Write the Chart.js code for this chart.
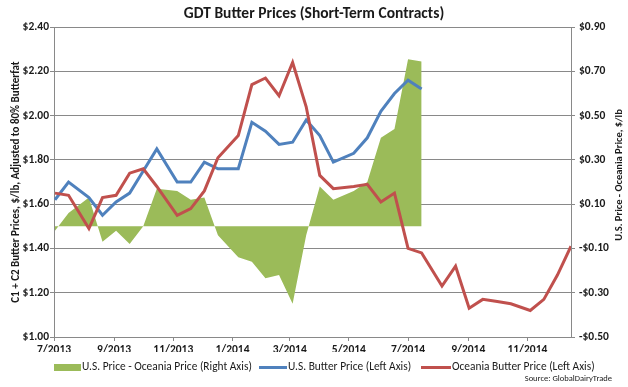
<!DOCTYPE html>
<html><head><meta charset="utf-8">
<script src="https://cdn.jsdelivr.net/npm/chart.js@4/dist/chart.umd.min.js"></script>
<style>html,body{margin:0;padding:0;background:#fff}#wrap{width:628px;height:387px}</style>
</head><body><div id="wrap"><canvas id="c" width="628" height="387"></canvas></div>
<script>
// ---- data ----
const eventDates = ['2013-07-02','2013-07-16','2013-08-06','2013-08-20','2013-09-03','2013-09-17','2013-10-01','2013-10-15','2013-11-05','2013-11-19','2013-12-03','2013-12-17','2014-01-07','2014-01-21','2014-02-04','2014-02-18','2014-03-04','2014-03-18','2014-04-01','2014-04-15','2014-05-06','2014-05-20','2014-06-03','2014-06-17','2014-07-01','2014-07-15','2014-08-05','2014-08-19','2014-09-02','2014-09-16','2014-10-01','2014-10-15','2014-11-04','2014-11-18','2014-12-02','2014-12-16'];
const usPrice = [1.62,1.70,1.63,1.55,1.61,1.65,1.75,1.85,1.70,1.70,1.79,1.76,1.76,1.97,1.93,1.87,1.88,1.98,1.91,1.79,1.83,1.90,2.02,2.10,2.16,2.12];
const oceaniaPrice = [1.65,1.64,1.49,1.63,1.64,1.74,1.76,1.68,1.55,1.58,1.66,1.81,1.91,2.14,2.17,2.09,2.24,2.04,1.73,1.67,1.68,1.69,1.61,1.65,1.40,1.38,1.23,1.32,1.13,1.17,1.16,1.15,1.12,1.17,1.28,1.41];
const priceSpread = [-0.02,0.06,0.13,-0.07,-0.02,-0.08,0.00,0.17,0.16,0.12,0.13,-0.04,-0.14,-0.16,-0.235,-0.22,-0.35,-0.04,0.18,0.12,0.16,0.20,0.40,0.44,0.755,0.745];
const xTickLabels = ['7/2013','9/2013','11/2013','1/2014','3/2014','5/2014','7/2014','9/2014','11/2014'];
const leftTicks = [1.00,1.20,1.40,1.60,1.80,2.00,2.20,2.40];
const rightTicks = [-0.50,-0.30,-0.10,0.10,0.30,0.50,0.70,0.90];
const seriesNames = ['U.S. Price - Oceania Price (Right Axis)','U.S. Butter Price (Left Axis)','Oceania Butter Price (Left Axis)'];
const chartTitle = 'GDT Butter Prices (Short-Term Contracts)';
const leftAxisTitle = 'C1 + C2 Butter Prices, $/lb, Adjusted to 80% Butterfat';
const rightAxisTitle = 'U.S. Price - Oceania Price, $/lb';
const sourceText = 'Source: GlobalDairyTrade';

// ---- helpers ----
const DAY = 86400000;
function labelDay(l){const [m,y]=l.split('/').map(Number);return Date.UTC(y,m-1,1)/DAY;}
function dateDay(s){const [y,m,d]=s.split('-').map(Number);return Date.UTC(y,m-1,d)/DAY;}
const xTickDays = xTickLabels.map(labelDay);
const xMin = xTickDays[0];
const xMax = dateDay(eventDates[eventDates.length-1]);
const pts = arr => arr.map((v,i)=>({x: dateDay(eventDates[i]), y: v}));

const FONT = 'Carlito, Lato, sans-serif';
const GRID = '#898989';
const TXT = '#1a1a1a';
const COLORS = ['#9BBB59','#4F81BD','#C0504D'];

const decor = {
  id: 'decor',
  afterDraw(chart){
    const ctx = chart.ctx;
    ctx.save();
    // right axis title
    ctx.fillStyle = TXT;
    ctx.font = 'bold 10.5px ' + FONT;
    ctx.textAlign = 'center'; ctx.textBaseline = 'middle';
    ctx.save(); ctx.translate(619, 175); ctx.rotate(-Math.PI/2); ctx.fillText(rightAxisTitle, 0, 0); ctx.restore();
    // legend
    const starts = [54, 259, 421];
    const widths = [27, 28, 30];
    const ly = 367.5;
    ctx.font = '11.4px ' + FONT;
    ctx.textAlign = 'left';
    chart.data.datasets.forEach((ds, i) => {
      const x = starts[i], w = widths[i];
      if (i === 0) { ctx.fillStyle = ds.backgroundColor; ctx.fillRect(x, ly - 3.5, w, 7); }
      else { ctx.strokeStyle = ds.borderColor; ctx.lineWidth = 3; ctx.beginPath(); ctx.moveTo(x, ly); ctx.lineTo(x + w, ly); ctx.stroke(); }
      ctx.fillStyle = TXT;
      ctx.fillText(ds.label, x + w + 1, ly);
    });
    // source
    ctx.font = '8.5px ' + FONT;
    ctx.textAlign = 'right';
    ctx.fillText(sourceText, 612, 379);
    ctx.restore();
  }
};

new Chart(document.getElementById('c'), {
  type: 'line',
  data: {
    datasets: [
      {label: seriesNames[0], data: pts(priceSpread), yAxisID: 'y1', fill: 'origin', backgroundColor: COLORS[0], borderColor: COLORS[0], borderWidth: 0, pointRadius: 0, tension: 0, order: 3},
      {label: seriesNames[1], data: pts(usPrice), yAxisID: 'y', fill: false, borderColor: COLORS[1], backgroundColor: COLORS[1], borderWidth: 3, pointRadius: 0, tension: 0, order: 2},
      {label: seriesNames[2], data: pts(oceaniaPrice), yAxisID: 'y', fill: false, borderColor: COLORS[2], backgroundColor: COLORS[2], borderWidth: 3, pointRadius: 0, tension: 0, order: 1}
    ]
  },
  options: {
    responsive: false, animation: false, devicePixelRatio: 1,
    layout: {padding: {top: 0, left: 0, right: 0, bottom: 35}},
    plugins: {
      legend: {display: false},
      tooltip: {enabled: false},
      title: {display: true, text: chartTitle, color: TXT, font: {family: FONT, size: 15.5, weight: 'bold'}, padding: {top: 5, bottom: 3.5}}
    },
    scales: {
      x: {
        type: 'linear', position: 'bottom', min: xMin, max: xMax,
        afterBuildTicks: s => { s.ticks = xTickDays.map(v => ({value: v})); },
        afterFit: s => { s.height = 15; },
        ticks: {autoSkip: false, maxRotation: 0, padding: 2, color: TXT, font: {family: FONT, size: 11.5, weight: 'bold'},
          callback: v => xTickLabels[xTickDays.indexOf(v)] ?? ''},
        grid: {drawOnChartArea: false, drawTicks: true, tickLength: 4, color: GRID},
        border: {display: true, color: GRID}
      },
      y: {
        position: 'left', min: leftTicks[0], max: leftTicks[leftTicks.length-1],
        afterBuildTicks: s => { s.ticks = leftTicks.map(v => ({value: v})); },
        afterFit: s => { s.width = 54; },
        ticks: {padding: 1, color: TXT, font: {family: FONT, size: 11.5, weight: 'bold'}, callback: v => '$' + Number(v).toFixed(2)},
        grid: {drawOnChartArea: true, drawTicks: true, tickLength: 4, color: GRID},
        border: {display: true, color: GRID},
        title: {display: true, text: leftAxisTitle, color: TXT, font: {family: FONT, size: 11, weight: 'bold'}, padding: {top: 10, bottom: 0}}
      },
      y1: {
        position: 'right', min: rightTicks[0], max: rightTicks[rightTicks.length-1],
        afterBuildTicks: s => { s.ticks = rightTicks.map(v => ({value: v})); },
        afterFit: s => { s.width = 57; },
        ticks: {padding: 4, color: TXT, font: {family: FONT, size: 11.5, weight: 'bold'},
          callback: v => (v < -1e-9 ? '-$' : '$') + Math.abs(Number(v)).toFixed(2)},
        grid: {drawOnChartArea: false, drawTicks: true, tickLength: 4, color: GRID},
        border: {display: true, color: GRID}
      }
    }
  },
  plugins: [decor]
});
</script>
</body></html>
